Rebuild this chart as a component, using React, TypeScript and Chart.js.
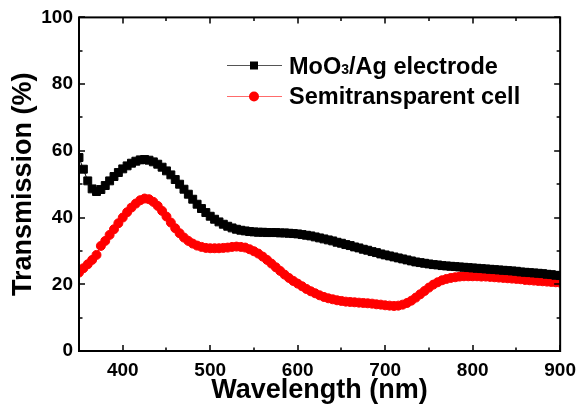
import React, { useEffect, useRef } from 'react';
import { Chart, registerables } from 'chart.js';

Chart.register(...registerables);

const FONT = "'Liberation Sans', Arial, Helvetica, sans-serif";

const wavelengths = [
  350, 355, 360, 365, 370, 375, 380, 385, 390, 395,
  400, 405, 410, 415, 420, 425, 430, 435, 440, 445,
  450, 455, 460, 465, 470, 475, 480, 485, 490, 495,
  500, 505, 510, 515, 520, 525, 530, 535, 540, 545,
  550, 555, 560, 565, 570, 575, 580, 585, 590, 595,
  600, 605, 610, 615, 620, 625, 630, 635, 640, 645,
  650, 655, 660, 665, 670, 675, 680, 685, 690, 695,
  700, 705, 710, 715, 720, 725, 730, 735, 740, 745,
  750, 755, 760, 765, 770, 775, 780, 785, 790, 795,
  800, 805, 810, 815, 820, 825, 830, 835, 840, 845,
  850, 855, 860, 865, 870, 875, 880, 885, 890, 895,
  900,
];

const moo3AgElectrode = [
  58.0, 54.5, 51.0, 48.6, 47.8, 48.4, 49.6, 51.0, 52.3, 53.5,
  54.6, 55.5, 56.3, 56.9, 57.3, 57.4, 57.2, 56.7, 56.0, 55.1,
  54.0, 52.8, 51.4, 50.0, 48.5, 47.0, 45.5, 44.0, 42.7, 41.5,
  40.4, 39.5, 38.7, 38.0, 37.4, 36.9, 36.5, 36.2, 36.0, 35.8,
  35.7, 35.6, 35.6, 35.5, 35.5, 35.5, 35.4, 35.4, 35.3, 35.2,
  35.1, 34.9, 34.7, 34.5, 34.2, 33.9, 33.6, 33.3, 33.0, 32.6,
  32.3, 31.9, 31.6, 31.2, 30.9, 30.5, 30.2, 29.8, 29.5, 29.1,
  28.8, 28.5, 28.2, 27.9, 27.6, 27.3, 27.0, 26.7, 26.5, 26.3,
  26.1, 25.9, 25.8, 25.6, 25.5, 25.4, 25.3, 25.2, 25.1, 25.0,
  24.9, 24.8, 24.7, 24.6, 24.5, 24.4, 24.3, 24.2, 24.1, 24.0,
  23.9, 23.7, 23.6, 23.5, 23.4, 23.3, 23.2, 23.0, 22.9, 22.7,
  22.6,
];

const semitransparentCell = [
  23.5, 24.8, 26.0, 27.3, 28.8, 31.5, 33.0, 34.8, 36.5, 38.3,
  40.0, 41.6, 43.0, 44.2, 45.2, 45.7, 45.5, 44.7, 43.5, 42.0,
  40.3, 38.5, 36.8, 35.3, 34.0, 33.0, 32.2, 31.6, 31.2, 30.9,
  30.8, 30.8, 30.8, 30.9, 31.0, 31.2, 31.3, 31.2, 31.0, 30.5,
  29.9, 29.2, 28.3, 27.3, 26.2, 25.1, 24.0, 22.9, 21.9, 21.0,
  20.2, 19.4, 18.6, 17.9, 17.3, 16.7, 16.2, 15.8, 15.5, 15.2,
  15.0, 14.8, 14.7, 14.6, 14.5, 14.4, 14.3, 14.2, 14.0, 13.9,
  13.7, 13.6, 13.5, 13.6, 13.9, 14.4, 15.1, 16.0, 17.0, 18.0,
  19.0, 19.9, 20.6, 21.2, 21.6, 21.9, 22.1, 22.3, 22.4, 22.4,
  22.4, 22.4, 22.3, 22.3, 22.2, 22.1, 22.0, 21.9, 21.8, 21.7,
  21.6, 21.5, 21.3, 21.2, 21.1, 21.0, 20.9, 20.8, 20.7, 20.6,
  20.5,
];

const xMajorTicks = [400, 500, 600, 700, 800, 900];
const xMinorTicks = [350, 450, 550, 650, 750, 850];
const yMajorTicks = [0, 20, 40, 60, 80, 100];
const yMinorTicks = [10, 30, 50, 70, 90];

const seriesNames = ['MoO', '3', '/Ag electrode'];
const seriesName2 = 'Semitransparent cell';

const framePlugin = {
  id: 'frameAndTicks',
  afterDraw(chart: any) {
    const { ctx, chartArea } = chart;
    const xs = chart.scales.x;
    const ys = chart.scales.y;
    const { left, right, top, bottom } = chartArea;
    ctx.save();
    ctx.strokeStyle = '#000';
    ctx.lineWidth = 2;
    ctx.strokeRect(left, top, right - left, bottom - top);
    ctx.lineWidth = 1.5;
    const major = 6;
    const minor = 3.5;
    const drawX = (v: number, len: number) => {
      const px = Math.round(xs.getPixelForValue(v));
      ctx.beginPath();
      ctx.moveTo(px, bottom);
      ctx.lineTo(px, bottom - len);
      ctx.moveTo(px, top);
      ctx.lineTo(px, top + len);
      ctx.stroke();
    };
    const drawY = (v: number, len: number) => {
      const py = Math.round(ys.getPixelForValue(v));
      ctx.beginPath();
      ctx.moveTo(left, py);
      ctx.lineTo(left + len, py);
      ctx.moveTo(right, py);
      ctx.lineTo(right - len, py);
      ctx.stroke();
    };
    xMajorTicks.forEach((v) => drawX(v, major));
    xMinorTicks.forEach((v) => drawX(v, minor));
    yMajorTicks.forEach((v) => drawY(v, major));
    yMinorTicks.forEach((v) => drawY(v, minor));

    // legend
    const lx0 = 227;
    const lx1 = 282;
    const mx = 254;
    const r1 = 65.5;
    const r2 = 96.5;
    ctx.lineWidth = 1;
    ctx.strokeStyle = '#555';
    ctx.beginPath();
    ctx.moveTo(lx0, r1);
    ctx.lineTo(lx1, r1);
    ctx.stroke();
    ctx.fillStyle = '#000';
    ctx.fillRect(mx - 4, r1 - 4, 8, 8);

    ctx.strokeStyle = '#ff6b6b';
    ctx.beginPath();
    ctx.moveTo(lx0, r2);
    ctx.lineTo(lx1, r2);
    ctx.stroke();
    ctx.fillStyle = '#ff0000';
    ctx.beginPath();
    ctx.arc(mx, r2, 5, 0, Math.PI * 2);
    ctx.fill();

    ctx.fillStyle = '#000';
    ctx.textBaseline = 'alphabetic';
    ctx.textAlign = 'left';
    const tx = 289;
    ctx.font = `bold 23.5px ${FONT}`;
    ctx.fillText(seriesNames[0], tx, 73.5);
    let w = ctx.measureText(seriesNames[0]).width;
    ctx.font = `bold 14px ${FONT}`;
    ctx.fillText(seriesNames[1], tx + w, 74);
    w += ctx.measureText(seriesNames[1]).width;
    ctx.font = `bold 23.5px ${FONT}`;
    ctx.fillText(seriesNames[2], tx + w, 73.5);
    ctx.fillText(seriesName2, tx, 104);
    ctx.restore();
  },
};

export default function App() {
  const ref = useRef<HTMLCanvasElement | null>(null);
  useEffect(() => {
    if (!ref.current) return;
    const chart = new Chart(ref.current, {
      type: 'line',
      data: {
        datasets: [
          {
            label: 'MoO3/Ag electrode',
            data: wavelengths.map((x, i) => ({ x, y: moo3AgElectrode[i] })),
            borderColor: '#000',
            backgroundColor: '#000',
            borderWidth: 1,
            pointStyle: 'rect',
            pointRadius: 5.6,
            pointBorderWidth: 1,
            pointBorderColor: '#000',
            pointBackgroundColor: '#000',
            tension: 0,
          },
          {
            label: 'Semitransparent cell',
            data: wavelengths.map((x, i) => ({ x, y: semitransparentCell[i] })),
            borderColor: '#ff0000',
            backgroundColor: '#ff0000',
            borderWidth: 1,
            pointStyle: 'circle',
            pointRadius: 4.5,
            pointBorderWidth: 1,
            pointBorderColor: '#ff0000',
            pointBackgroundColor: '#ff0000',
            tension: 0,
          },
        ],
      },
      options: {
        animation: false,
        responsive: false,
        devicePixelRatio: 1,
        layout: { padding: { top: 12, right: 18, left: 0, bottom: 0 } },
        plugins: { legend: { display: false }, tooltip: { enabled: false } },
        scales: {
          x: {
            type: 'linear',
            min: 350,
            max: 900,
            grid: { display: false, drawTicks: false },
            border: { display: false },
            ticks: {
              stepSize: 100,
              includeBounds: false,
              padding: 8,
              color: '#000',
              maxRotation: 0,
              font: { family: FONT, size: 19, weight: 'bold' },
            },
            title: {
              display: true,
              text: 'Wavelength (nm)',
              color: '#000',
              font: { family: FONT, size: 27, weight: 'bold' },
              padding: { top: 0, bottom: 3 },
            },
            afterFit: (s: any) => {
              s.height = 59;
            },
          },
          y: {
            type: 'linear',
            min: 0,
            max: 100,
            grid: { display: false, drawTicks: false },
            border: { display: false },
            ticks: {
              stepSize: 20,
              padding: 6,
              color: '#000',
              font: { family: FONT, size: 19, weight: 'bold' },
            },
            title: {
              display: true,
              text: 'Transmission (%)',
              color: '#000',
              font: { family: FONT, size: 27, weight: 'bold' },
              padding: { top: 7, bottom: 0 },
            },
            afterFit: (s: any) => {
              s.width = 79;
            },
          },
        },
      },
      plugins: [framePlugin],
    } as any);
    return () => chart.destroy();
  }, []);
  return (
    <div style={{ position: 'fixed', left: 0, top: 0, width: 584, height: 410, background: '#fff' }}>
      <canvas ref={ref} width={584} height={410} style={{ width: 584, height: 410, display: 'block' }} />
    </div>
  );
}
